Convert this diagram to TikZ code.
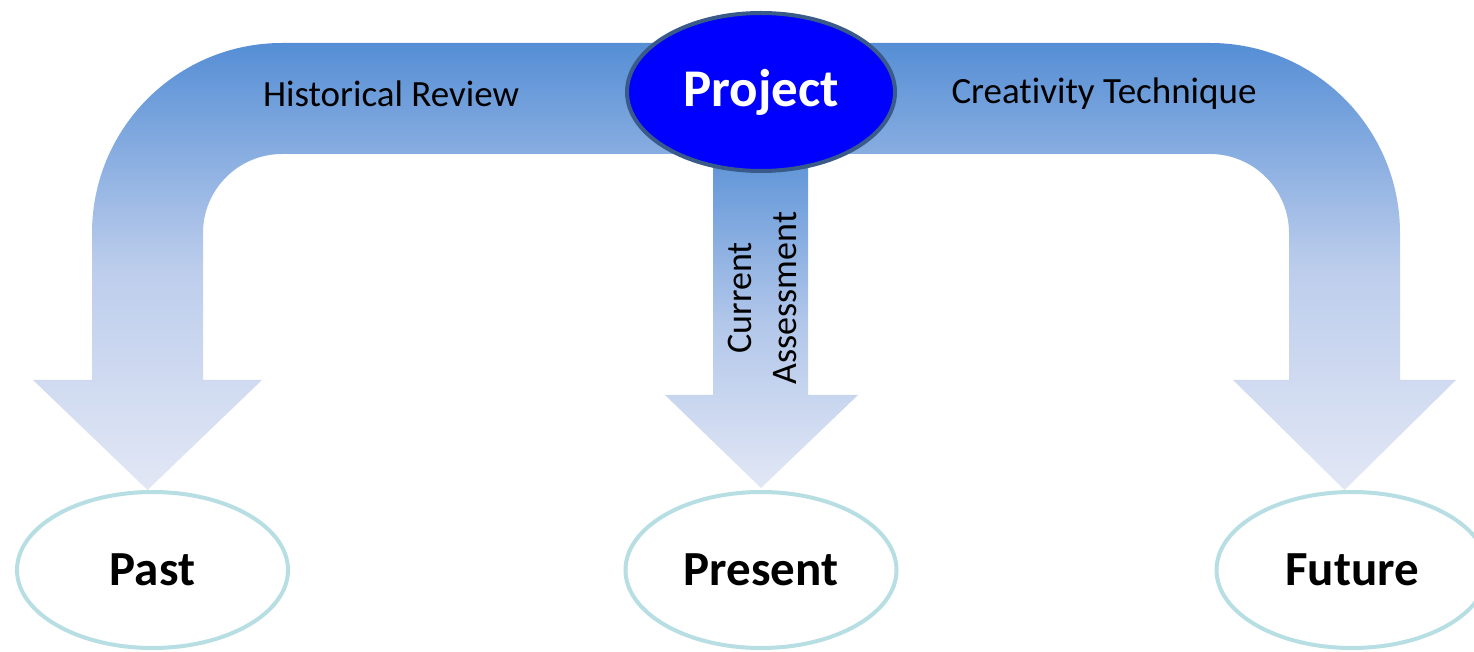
\documentclass[tikz,border=0pt]{standalone}
\usepackage{fontspec}
\setmainfont{Carlito}[RawFeature={-liga,-clig,-calt,-dlig}]
\usetikzlibrary{shapes.geometric}
\definecolor{topblue}{RGB}{85,142,213}
\definecolor{midblue}{RGB}{188,205,236}
\definecolor{lowblue}{RGB}{226,231,245}
\definecolor{projblue}{RGB}{0,0,255}
\definecolor{projedge}{RGB}{58,90,138}
\definecolor{tealedge}{RGB}{183,222,226}
\tikzset{
  bigarrow/.style={top color=topblue, bottom color=lowblue, middle color=midblue, draw=none},
  timebox/.style={ellipse, draw=tealedge, line width=4pt, fill=white, minimum width=271pt, minimum height=156pt, inner sep=0pt, font=\fontsize{49}{53}\selectfont\bfseries},
  projbox/.style={ellipse, draw=projedge, line width=4pt, fill=projblue, minimum width=268pt, minimum height=158pt, inner sep=0pt, text=white, font=\fontsize{53}{57}\selectfont\bfseries},
  lbl/.style={font=\fontsize{37}{45}\selectfont, text=black, align=center}
}
\begin{document}
\begin{tikzpicture}[x=1pt,y=1pt]
\useasboundingbox (0,0) rectangle (1474,651);
% bent arrow (Past / Future)
\path[bigarrow] (33,271) -- (92,271) -- (92,418) arc[start angle=180, end angle=90, radius=190]
  -- (1210,608) arc[start angle=90, end angle=0, radius=190]
  -- (1400,271) -- (1456,271) -- (1344.5,161) -- (1233,271) -- (1289,271)
  -- (1289,418) arc[start angle=0, end angle=90, radius=79]
  -- (282,497) arc[start angle=90, end angle=180, radius=79]
  -- (203,271) -- (262,271) -- (147.5,161) -- cycle;
% middle arrow
\path[top color=topblue!95!white, bottom color=lowblue, middle color=midblue!90!topblue, draw=none]
  (713,496) -- (808,496) -- (808,256) -- (858,256) -- (761,163) -- (665,256) -- (713,256) -- cycle;
% nodes
\node[projbox] (proj) at (761,559) {\raisebox{-3pt}{Project}};
\node[lbl] (hist) at (391,557) {Historical Review};
\node[lbl] (crea) at (1104,557) {Creativity Technique};
\node[lbl, rotate=90, font=\fontsize{36}{45}\selectfont] (curr) at (762,353) {Current\\Assessment};
\node[timebox] (past) at (152.5,81) {\raisebox{-2pt}{Past}};
\node[timebox] (pres) at (761,81) {\raisebox{-2pt}{Present}};
\node[timebox] (futu) at (1352,81) {\raisebox{-2pt}{Future}};
\end{tikzpicture}
\end{document}
